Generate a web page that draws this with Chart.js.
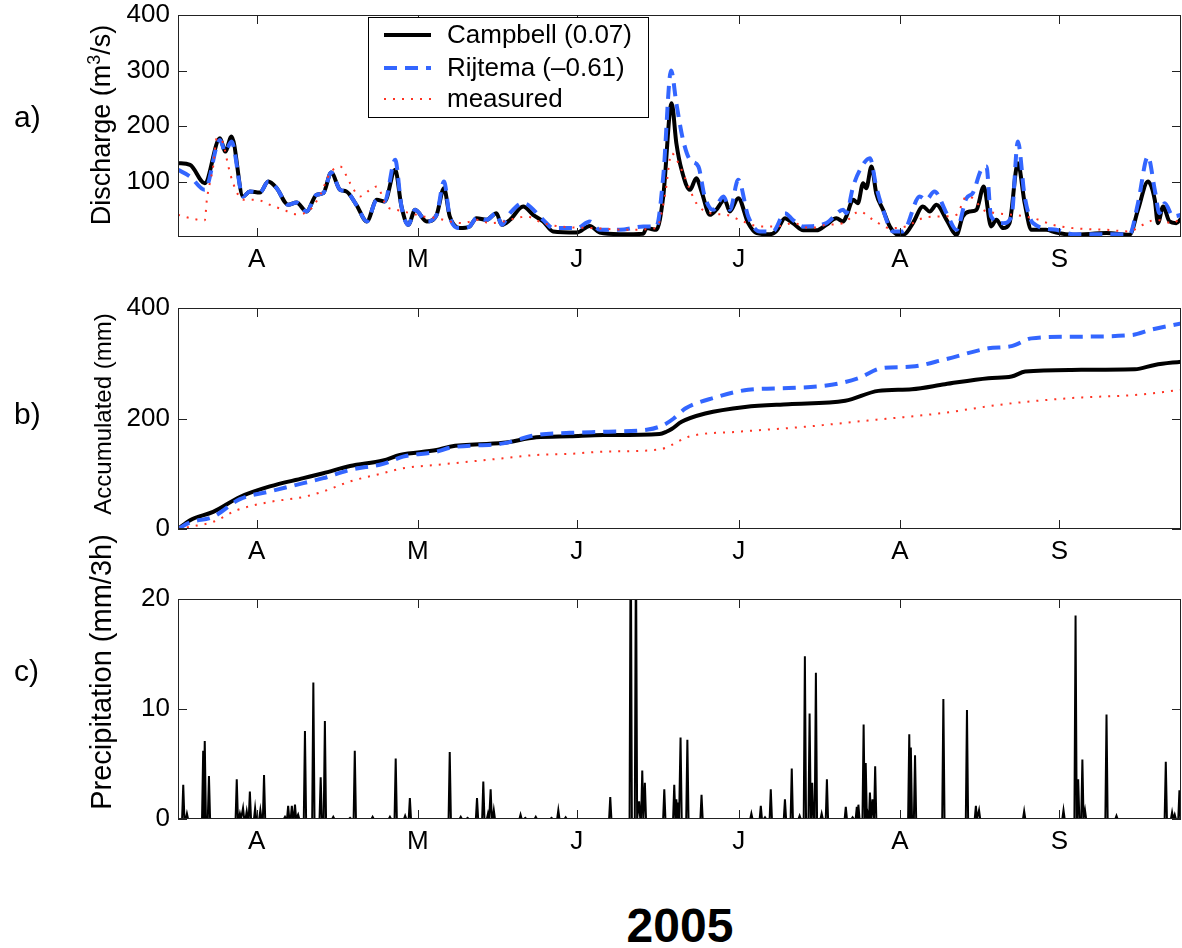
<!DOCTYPE html>
<html>
<head>
<meta charset="utf-8">
<script src="https://cdn.jsdelivr.net/npm/chart.js@4.4.1/dist/chart.umd.min.js"></script>
<style>
  body { margin: 0; background: #fff; width: 1182px; height: 948px; position: relative; overflow: hidden; }
  canvas { position: absolute; left: 0; }
  .lab { position: absolute; font-family: "Liberation Sans", Arial, sans-serif; color: #000; }
  .panel { font-size: 30px; line-height: 30px; left: 14px; }
</style>
</head>
<body>
<canvas id="chartA" width="1182" height="297" style="top:-20px"></canvas>
<canvas id="chartB" width="1182" height="299" style="top:270px"></canvas>
<canvas id="chartC" width="1182" height="339" style="top:520px"></canvas>
<div class="lab panel" style="top:102px">a)</div>
<div class="lab panel" style="top:399px">b)</div>
<div class="lab panel" style="top:656px">c)</div>
<div class="lab" style="top:902px; left:178px; width:1004px; text-align:center; font-size:48px; line-height:48px; font-weight:bold;">2005</div>
<script>
// x axis is in days since 1 March 2005
const xMin = 16, xMax = 207.2;
const monthTicks = [31, 61.7, 92, 122.9, 153.6, 184];
const monthLabels = ['A', 'M', 'J', 'J', 'A', 'S'];

// a) discharge (m3/s)
const campbellQDay = [16, 18.3, 21.1, 24, 25, 26.2, 28.4, 29.7, 31.6, 33.2, 34.8, 37, 38.6, 40.5, 42.4, 43.7, 45.2, 46.9, 48.1, 50, 52, 53.9, 55.4, 57.4, 58.6, 59.9, 61.2, 63.4, 65.3, 66.7, 67.8, 69.7, 71.6, 72.9, 74.8, 76.7, 77.7, 79.3, 81.8, 83.7, 85.6, 87.5, 92, 94.5, 96.4, 100.2, 104.7, 105.3, 107.2, 108.5, 110.1, 111, 112, 113.6, 114.8, 115.8, 117.4, 118.6, 120.2, 121.2, 122.8, 124.7, 126.3, 128.8, 130.1, 131.7, 133.2, 135.2, 137.7, 139.6, 141.5, 142.8, 143.4, 144.7, 145.6, 146.6, 147.2, 148.2, 149.1, 150.4, 151.7, 153.3, 154.5, 156.1, 158, 159.3, 160.6, 162.5, 164.4, 165.6, 166.9, 168.2, 169.6, 171, 172, 173.3, 174.5, 176.1, 177.4, 178.7, 181.5, 183.4, 186.6, 193, 197.4, 199, 200.9, 202.2, 202.8, 203.8, 205, 206.3, 207.3];
const campbellQ = [133, 130, 97, 178, 154, 181, 73, 82, 80, 100, 88, 58, 62, 46, 76, 79, 116, 85, 82, 58, 28, 67, 64, 121, 55, 22, 49, 28, 40, 88, 37, 16, 19, 34, 31, 43, 22, 31, 55, 40, 28, 10, 8, 20, 8, 5, 6, 16, 13, 73, 241, 169, 121, 85, 106, 82, 40, 49, 67, 46, 70, 25, 7, 5, 11, 34, 25, 12, 12, 22, 34, 28, 37, 67, 61, 97, 88, 127, 79, 49, 19, 4, 5, 25, 55, 46, 58, 31, 4, 37, 46, 49, 91, 19, 31, 16, 25, 133, 61, 13, 13, 8, 4, 7, 4, 49, 100, 67, 25, 55, 28, 25, 34];

const rijtemaQDay = [16, 18.3, 21.1, 24, 25, 26.2, 28.4, 29.7, 31.6, 33.2, 34.8, 37, 38.6, 40.5, 42.4, 43.7, 45.2, 46.9, 48.1, 50, 52, 53.9, 55.4, 57.4, 58.6, 59.9, 61.2, 63.4, 65.3, 66.7, 67.8, 69.7, 71.6, 72.9, 74.8, 76.7, 77.7, 79.3, 81.8, 85.6, 87.5, 92, 94.5, 96.4, 100.2, 104.7, 107.2, 108.5, 110, 111, 112.2, 113.6, 115.2, 116.4, 118, 120, 121.2, 122.8, 124.7, 126.9, 129.4, 131.7, 133.2, 135.2, 139.6, 142.8, 143.4, 144.7, 146, 147.9, 149.1, 150.4, 152.3, 154.2, 157.4, 158.6, 160.2, 162.5, 164.4, 166.3, 167.5, 169.1, 170.1, 171, 173.3, 174.9, 176.1, 177.4, 179, 183.4, 186.6, 197.4, 199, 200.9, 202.2, 203.1, 204.1, 205.7, 207.3];
const rijtemaQ = [121, 109, 85, 175, 154, 172, 73, 82, 80, 100, 88, 58, 62, 46, 76, 79, 116, 85, 82, 58, 28, 67, 64, 139, 55, 22, 49, 28, 40, 100, 37, 16, 19, 34, 31, 43, 22, 43, 61, 31, 16, 16, 28, 13, 13, 19, 19, 109, 300, 241, 178, 139, 127, 73, 49, 73, 49, 103, 37, 10, 10, 43, 31, 19, 25, 49, 43, 91, 121, 142, 91, 49, 10, 10, 73, 67, 82, 43, 13, 70, 79, 121, 127, 37, 25, 37, 172, 73, 25, 13, 5, 5, 61, 145, 85, 43, 61, 37, 40];

const measuredQDay = [16, 18.3, 21.1, 21.5, 22.7, 23.4, 24.6, 25.6, 26.5, 28.4, 31, 33.5, 36.1, 38.6, 41.2, 43.1, 45, 46.9, 48.8, 50.7, 52.6, 53.9, 55.8, 57.7, 60.2, 62.8, 65.3, 67.8, 70.4, 72.9, 75.5, 78, 80.5, 82.4, 85.6, 88.8, 95.1, 101.5, 107.2, 108.8, 110.1, 111.7, 113.6, 114.8, 117.4, 120.5, 123.7, 126.9, 130.1, 133.3, 136.4, 139.6, 142.8, 145.9, 148.5, 151.7, 154.8, 158, 161.2, 164.4, 166.3, 167.5, 169.5, 172, 175.2, 179, 182.8, 186.6, 192.9, 197.4, 199.3, 202.5, 205.7, 207.3];
const measuredQ = [40, 34, 30, 67, 127, 178, 169, 127, 97, 67, 67, 58, 49, 41, 49, 76, 115, 127, 97, 73, 85, 91, 55, 49, 43, 37, 34, 28, 25, 31, 25, 28, 34, 37, 25, 19, 16, 13, 16, 73, 151, 127, 85, 61, 43, 40, 28, 19, 19, 25, 16, 22, 25, 46, 31, 16, 19, 34, 37, 40, 73, 70, 49, 43, 40, 34, 22, 16, 13, 10, 19, 31, 25, 37];

// b) accumulated discharge (mm)
const campbellAccDay = [16, 18.3, 22.7, 27.8, 33.5, 39.9, 43.7, 48.8, 55.1, 58.3, 65.3, 67.8, 78, 84.3, 90.7, 97.1, 107.8, 109.1, 110.1, 112, 116.5, 124.1, 132.4, 143.2, 149.5, 155.9, 162.2, 170.5, 174.9, 177.5, 186.3, 198.4, 202.2, 207.3];
const campbellAcc = [0, 16, 31, 58, 77, 92, 101, 114, 124, 134, 143, 149, 156, 166, 168, 170, 172, 176, 181, 194, 209, 221, 226, 232, 250, 253, 262, 273, 276, 285, 288, 289, 297, 303];

const rijtemaAccDay = [16, 18.3, 22.7, 27.8, 33.5, 39.9, 43.7, 48.8, 55.1, 58.9, 65.3, 67.8, 78, 84.3, 90.7, 97.1, 105.6, 108.5, 110.5, 112.7, 118.4, 124.7, 132.4, 140.6, 145.7, 150.1, 155.9, 162.2, 170.5, 174.9, 178.7, 186.3, 197.8, 201.6, 207.3];
const rijtemaAcc = [0, 12, 22, 54, 68, 83, 92, 107, 118, 131, 140, 147, 155, 170, 174, 176, 180, 188, 200, 218, 238, 252, 255, 261, 273, 291, 294, 307, 327, 331, 345, 348, 351, 361, 372];

const measuredAccDay = [16, 18.3, 22.7, 27.2, 33.5, 39.9, 43.7, 48.8, 55.1, 58.9, 65.3, 71.6, 78, 84.3, 90.7, 97.1, 107.8, 110.1, 113.3, 122.8, 135.5, 148.2, 161, 173.6, 186.3, 199, 207.3];
const measuredAcc = [0, 4, 13, 34, 49, 58, 68, 86, 101, 110, 116, 122, 128, 134, 136, 140, 144, 152, 167, 176, 185, 197, 209, 226, 237, 243, 252];

// c) precipitation (mm/3h)
const rainDay = [17.0, 17.7, 20.8, 21.1, 21.9, 27.2, 27.8, 28.4, 29.1, 29.7, 30.7, 31.7, 32.4, 36.4, 37.0, 37.7, 38.3, 38.9, 40.2, 41.8, 43.2, 44.0, 45.6, 48.8, 49.7, 53.1, 56.4, 57.5, 59.3, 60.2, 67.8, 69.9, 71.2, 73.0, 74.2, 75.1, 75.6, 76.2, 81.3, 82.2, 84.2, 87.2, 88.5, 89.9, 98.4, 102.3, 103.3, 103.9, 104.5, 105.0, 108.7, 110.6, 111.0, 111.3, 111.8, 113.1, 115.8, 125.3, 127.1, 127.9, 129.0, 131.7, 133.0, 134.5, 135.5, 136.4, 136.9, 137.6, 138.7, 139.7, 143.3, 144.6, 145.4, 145.7, 146.7, 147.1, 147.5, 147.9, 148.4, 148.9, 155.4, 155.7, 156.5, 161.9, 166.4, 168.1, 168.7, 177.3, 184.8, 187.1, 187.6, 188.4, 188.9, 193.0, 194.9, 204.3, 205.5, 206.0, 206.9];
const rainMm = [3.1, 0.5, 6.2, 7.1, 3.9, 3.6, 0.5, 1.0, 0.7, 2.5, 1.0, 0.8, 4.0, 0.2, 1.2, 1.2, 1.3, 0.4, 8.0, 12.4, 3.8, 8.9, 0.2, 0.1, 6.2, 0.2, 0.2, 5.5, 0.3, 1.9, 6.1, 0.2, 0.1, 1.9, 3.4, 0.5, 2.7, 0.8, 0.4, 0.1, 0.2, 0.1, 0.8, 0.15, 2.0, 28, 26, 1.6, 4.4, 3.3, 2.7, 3.1, 1.8, 1.5, 7.4, 7.2, 2.2, 0.5, 1.2, 0.15, 2.7, 1.8, 4.6, 0.3, 14.8, 9.6, 3.3, 13.3, 0.5, 3.6, 1.1, 0.15, 1.1, 1.3, 8.6, 5.1, 0.5, 2.4, 1.8, 4.8, 7.7, 6.5, 5.8, 10.9, 9.9, 1.2, 0.8, 0.7, 0.8, 18.5, 3.6, 5.4, 0.8, 9.5, 0.3, 5.2, 0.6, 0.4, 2.6];

const FONT = '"Liberation Sans", Arial, Helvetica, sans-serif';
const BLUE = '#3366ff';
const RED = '#ff3322';

function pts(xs, ys) {
    return xs.map((x, i) => ({x: x, y: ys[i]}));
}

// each 3-hourly rain value shown as a narrow spike
function spikes(xs, ys) {
    const out = [{x: xMin, y: 0}];
    xs.forEach((x, i) => {
        out.push({x: x - 0.22, y: 0}, {x: x, y: ys[i]}, {x: x + 0.22, y: 0});
    });
    out.push({x: xMax, y: 0});
    return out;
}

// box round the axes, with inward ticks on all sides (matlab style)
const framePlugin = {
    id: 'frame',
    afterDatasetsDraw(chart) {
        const {ctx, chartArea: a, scales} = chart;
        ctx.save();
        ctx.strokeStyle = '#222';
        ctx.lineWidth = 1;
        ctx.strokeRect(a.left + 0.5, a.top + 0.5, a.width - 1, a.height - 1);
        ctx.beginPath();
        scales.x.ticks.forEach(t => {
            const px = Math.round(scales.x.getPixelForValue(t.value)) + 0.5;
            ctx.moveTo(px, a.bottom); ctx.lineTo(px, a.bottom - 9);
            ctx.moveTo(px, a.top); ctx.lineTo(px, a.top + 9);
        });
        scales.y.ticks.forEach(t => {
            const py = Math.round(scales.y.getPixelForValue(t.value)) + 0.5;
            ctx.moveTo(a.left, py); ctx.lineTo(a.left + 9, py);
            ctx.moveTo(a.right, py); ctx.lineTo(a.right - 9, py);
        });
        ctx.stroke();
        ctx.restore();
    }
};

// rotated y title, pieces may be raised (superscript)
function yTitle(parts, cx, cy) {
    return {
        id: 'yTitle',
        afterDraw(chart) {
            const ctx = chart.ctx;
            ctx.save();
            ctx.translate(cx, cy);
            ctx.rotate(-Math.PI / 2);
            ctx.fillStyle = '#000';
            ctx.textBaseline = 'alphabetic';
            let total = 0;
            parts.forEach(p => {
                ctx.font = p.size + 'px ' + FONT;
                p.w = ctx.measureText(p.text).width;
                total += p.w;
            });
            let x = -total / 2;
            const base = parts[0].size * 0.36;
            parts.forEach(p => {
                ctx.font = p.size + 'px ' + FONT;
                ctx.fillText(p.text, x, base - (p.rise || 0));
                x += p.w;
            });
            ctx.restore();
        }
    };
}

const legendPlugin = {
    id: 'boxLegend',
    afterDraw(chart) {
        const ctx = chart.ctx;
        const top = chart.chartArea.top;
        const x0 = 368, y0 = top + 2, w = 280, h = 100;
        ctx.save();
        ctx.fillStyle = '#fff';
        ctx.fillRect(x0, y0, w, h);
        ctx.strokeStyle = '#000';
        ctx.lineWidth = 1;
        ctx.strokeRect(x0 + 0.5, y0 + 0.5, w, h);
        const rows = [top + 20, top + 53, top + 84];
        const order = ['Campbell (0.07)', 'Rijtema (\u20130.61)', 'measured'];
        order.forEach((name, i) => {
            const ds = chart.data.datasets.find(d => d.label === name);
            ctx.beginPath();
            ctx.strokeStyle = ds.borderColor;
            ctx.lineWidth = ds.borderWidth;
            ctx.setLineDash(ds.borderDash || []);
            ctx.moveTo(384, rows[i]);
            ctx.lineTo(431, rows[i]);
            ctx.stroke();
            ctx.setLineDash([]);
            ctx.fillStyle = '#000';
            ctx.font = '26px ' + FONT;
            ctx.textBaseline = 'middle';
            ctx.fillText(ds.label, 447, rows[i] + 1);
        });
        ctx.restore();
    }
};

function makeOptions(yMax, yTicks, padTop) {
    return {
        responsive: false,
        animation: false,
        layout: {padding: {left: 0, top: padTop, right: 1, bottom: 0}},
        plugins: {legend: {display: false}, tooltip: {enabled: false}},
        elements: {point: {radius: 0}},
        scales: {
            x: {
                type: 'linear',
                min: xMin,
                max: xMax,
                afterBuildTicks: axis => { axis.ticks = monthTicks.map(v => ({value: v})); },
                afterFit: axis => { axis.height = 40; },
                grid: {display: false, drawTicks: false},
                border: {display: false},
                ticks: {
                    padding: 7,
                    color: '#000',
                    font: {family: FONT, size: 26},
                    maxRotation: 0,
                    callback: (v, i) => monthLabels[i]
                }
            },
            y: {
                min: 0,
                max: yMax,
                afterBuildTicks: axis => { axis.ticks = yTicks.map(v => ({value: v})); },
                afterFit: axis => { axis.width = 178; },
                grid: {display: false, drawTicks: false},
                border: {display: false},
                ticks: {padding: 8, color: '#000', font: {family: FONT, size: 26}}
            }
        }
    };
}

function lineSet(label, data, color, width, dash) {
    return {
        label: label,
        data: data,
        borderColor: color,
        borderWidth: width,
        borderDash: dash,
        fill: false,
        cubicInterpolationMode: 'monotone'
    };
}

new Chart(document.getElementById('chartA'), {
    type: 'line',
    data: {
        datasets: [
            lineSet('measured', pts(measuredQDay, measuredQ), RED, 2, [2, 7]),
            lineSet('Rijtema (\u20130.61)', pts(rijtemaQDay, rijtemaQ), BLUE, 4, [13, 8]),
            lineSet('Campbell (0.07)', pts(campbellQDay, campbellQ), '#000', 4, [])
        ]
    },
    options: makeOptions(400, [100, 200, 300, 400], 35),
    plugins: [framePlugin, legendPlugin, yTitle([
        {text: 'Discharge (m', size: 27},
        {text: '3', size: 18, rise: 10},
        {text: '/s)', size: 27}
    ], 100, 145)]
});

new Chart(document.getElementById('chartB'), {
    type: 'line',
    data: {
        datasets: [
            lineSet('measured', pts(measuredAccDay, measuredAcc), RED, 2, [2, 7]),
            lineSet('Rijtema', pts(rijtemaAccDay, rijtemaAcc), BLUE, 4, [13, 8]),
            lineSet('Campbell', pts(campbellAccDay, campbellAcc), '#000', 4, [])
        ]
    },
    options: makeOptions(400, [0, 200, 400], 38),
    plugins: [framePlugin, yTitle([{text: 'Accumulated (mm)', size: 24}], 102, 144)]
});

new Chart(document.getElementById('chartC'), {
    type: 'line',
    data: {
        datasets: [{
            label: 'precipitation',
            data: spikes(rainDay, rainMm),
            borderColor: '#000',
            borderWidth: 2,
            fill: false,
            tension: 0
        }]
    },
    options: makeOptions(20, [0, 10, 20], 79),
    plugins: [framePlugin, yTitle([{text: 'Precipitation (mm/3h)', size: 29}], 101, 152)]
});
</script>
</body>
</html>
